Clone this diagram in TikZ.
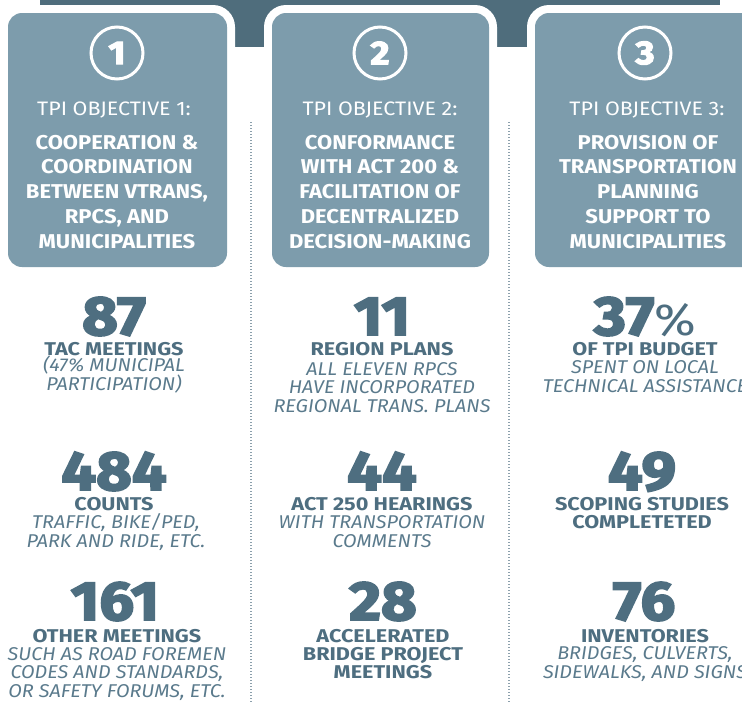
\documentclass[tikz,border=0pt]{standalone}
\usepackage{fontspec}
\setmainfont{Fira Sans}
\newfontfamily\numfont{Fira Sans}[FakeStretch=1.12, BoldFeatures={FakeBold=3.5}]
\newfontfamily\labfont{Fira Sans}[FakeStretch=1.17]
\newfontfamily\notefont{Fira Sans}[FakeStretch=1.07]
\newfontfamily\objfont{Fira Sans}[FakeStretch=1.1]
\definecolor{bandblue}{RGB}{79,109,124}
\definecolor{boxgray}{RGB}{125,156,172}
\definecolor{numblue}{RGB}{78,110,128}
\definecolor{noteblue}{RGB}{90,122,140}
\definecolor{dotgray}{RGB}{140,160,172}

\begin{document}
\begin{tikzpicture}[x=1pt, y=-1pt,
    ring/.style={fill=white, rounded corners=22pt},
    objbox/.style={fill=boxgray, rounded corners=14pt},
    numcircle/.style={circle, draw=white, line width=3pt, minimum size=52pt, inner sep=0pt,
      text=white, font=\numfont\bfseries\fontsize{33}{33}\selectfont},
    objtitle/.style={anchor=base, inner sep=0pt, text=white, font=\objfont\fontsize{19.5}{24}\selectfont},
    objtext/.style={anchor=base, inner sep=0pt, align=center, text=white,
      font=\objfont\bfseries\fontsize{20}{24.7}\selectfont},
    bignum/.style={anchor=base, inner sep=0pt, text=numblue, font=\numfont\bfseries\fontsize{55}{55}\selectfont},
    statlabel/.style={anchor=base, inner sep=0pt, align=center, text=numblue,
      font=\labfont\bfseries\fontsize{18.5}{18}\selectfont},
    statnote/.style={anchor=base, inner sep=0pt, align=center, text=noteblue,
      font=\notefont\itshape\fontsize{18.5}{18.5}\selectfont},
    sepline/.style={dotgray, line width=1.2pt, dash pattern=on 1pt off 2pt}]
  \useasboundingbox (0,0) rectangle (742,704);

  % band and boxes
  \fill[bandblue] (40,-5) rectangle (720,47);
  \fill[ring] (0,5) rectangle (235,275);
  \fill[ring] (264,5) rectangle (497,275);
  \fill[ring] (527,5) rectangle (769,275);
  \fill[objbox] (8,13) rectangle (227,267);
  \fill[objbox] (272,13) rectangle (489,267);
  \fill[objbox] (535,13) rectangle (761,267);

  % separators
  \coordinate (sepAtop) at (251,122);
  \coordinate (sepAbot) at (251,704);
  \coordinate (sepBtop) at (509,122);
  \coordinate (sepBbot) at (509,704);
  \draw[sepline] (sepAtop) -- (sepAbot);
  \draw[sepline] (sepBtop) -- (sepBbot);

  % Objective 1 (multi-line nodes sit on their last line)
  \node[numcircle] (circ1) at (117,53) {1};
  \node[objtitle] (title1) at (114,115) {TPI OBJECTIVE 1:};
  \node[objtext] (obj1) at (117,248) {COOPERATION \&\\COORDINATION\\BETWEEN VTRANS,\\RPCS, AND\\MUNICIPALITIES};
  % Objective 2
  \node[numcircle] (circ2) at (380,53) {2};
  \node[objtitle] (title2) at (380,115) {TPI OBJECTIVE 2:};
  \node[objtext] (obj2) at (380,248) {CONFORMANCE\\WITH ACT 200 \&\\FACILITATION OF\\DECENTRALIZED\\DECISION-MAKING};
  % Objective 3
  \node[numcircle] (circ3) at (645,53) {3};
  \node[objtitle] (title3) at (647,115) {TPI OBJECTIVE 3:};
  \node[objtext] (obj3) at (648,248) {PROVISION OF\\TRANSPORTATION\\PLANNING\\SUPPORT TO\\MUNICIPALITIES};

  % column 1
  \node[bignum] (num1a) at (114,335) {87};
  \node[statlabel] (lab1a) at (114,355) {TAC MEETINGS};
  \node[statnote] (note1a) at (114,390) {(47\% MUNICIPAL\\PARTICIPATION)};
  \node[bignum] (num1b) at (114,490) {484};
  \node[statlabel] (lab1b) at (114,510) {COUNTS};
  \node[statnote] (note1b) at (116,547) {TRAFFIC, BIKE/PED,\\PARK AND RIDE, ETC.};
  \node[bignum] (num1c) at (115,620) {161};
  \node[statlabel] (lab1c) at (117,642) {OTHER MEETINGS};
  \node[statnote] (note1c) at (117,697) {SUCH AS ROAD FOREMEN\\CODES AND STANDARDS,\\OR SAFETY FORUMS, ETC.};

  % column 2
  \node[bignum] (num2a) at (382,335) {11};
  \node[statlabel] (lab2a) at (382,355) {REGION PLANS};
  \node[statnote] (note2a) at (382,412) {ALL ELEVEN RPCS\\HAVE INCORPORATED\\REGIONAL TRANS. PLANS};
  \node[bignum] (num2b) at (382,490) {44};
  \node[statlabel] (lab2b) at (382,510) {ACT 250 HEARINGS};
  \node[statnote] (note2b) at (382,547) {WITH TRANSPORTATION\\COMMENTS};
  \node[bignum] (num2c) at (383,620) {28};
  \node[statlabel] (lab2c) at (383,678) {ACCELERATED\\BRIDGE PROJECT\\MEETINGS};

  % column 3
  \node[bignum] (num3a) at (645,335) {37{\mdseries\fontsize{45}{45}\selectfont\%}};
  \node[statlabel] (lab3a) at (645,355) {OF TPI BUDGET};
  \node[statnote] (note3a) at (645,392) {SPENT ON LOCAL\\TECHNICAL ASSISTANCE};
  \node[bignum] (num3b) at (642,490) {49};
  \node[statlabel] (lab3b) at (642,528) {SCOPING STUDIES\\COMPLETETED};
  \node[bignum] (num3c) at (644,620) {76};
  \node[statlabel] (lab3c) at (645,642) {INVENTORIES};
  \node[statnote] (note3c) at (645,678) {BRIDGES, CULVERTS,\\SIDEWALKS, AND SIGNS};
\end{tikzpicture}
\end{document}
